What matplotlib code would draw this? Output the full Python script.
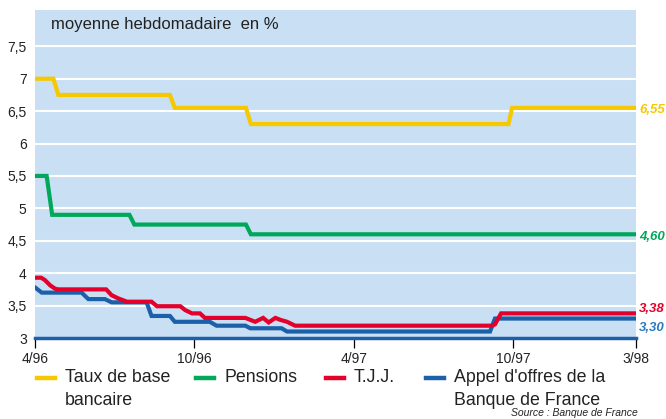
import matplotlib
matplotlib.use("Agg")
import matplotlib.pyplot as plt
from matplotlib.lines import Line2D

plt.rcParams['font.family'] = ['Liberation Sans', 'DejaVu Sans']

# ---- data (x in weeks since start of April 1996) ----
tick_pos = [0, 26, 52, 78, 98]
tick_labels = ['4/96', '10/96', '4/97', '10/97', '3/98']
y_ticks = [3, 3.5, 4, 4.5, 5, 5.5, 6, 6.5, 7, 7.5]
y_tick_labels = ['3', '3,5', '4', '4,5', '5', '5,5', '6', '6,5', '7', '7,5']

tbb_x = [0, 3, 3.8, 22, 22.8, 34.4, 35.2, 77.2, 77.8, 98]
tbb_y = [7.0, 7.0, 6.75, 6.75, 6.55, 6.55, 6.30, 6.30, 6.55, 6.55]

pens_x = [0, 1.9, 2.8, 15.4, 16.2, 34.4, 35.2, 98]
pens_y = [5.5, 5.5, 4.9, 4.9, 4.75, 4.75, 4.6, 4.6]

tjj_x = [0, 1.0, 1.6, 2.5, 3.3, 3.8, 11.6, 12.5, 13.6, 15.0, 19.0, 19.9, 23.7, 24.5,
         25.6, 26.9, 27.7, 34.3, 35.1, 35.9, 37.2, 38.1, 39.2, 40.0, 41.1, 42.4,
         74.5, 75.0, 76.0, 98]
tjj_y = [3.93, 3.93, 3.895, 3.81, 3.76, 3.75, 3.75, 3.66, 3.61, 3.56, 3.56, 3.49, 3.49, 3.43,
         3.38, 3.38, 3.31, 3.31, 3.28, 3.25, 3.31, 3.24, 3.31, 3.28, 3.25, 3.19,
         3.19, 3.21, 3.38, 3.38]

ao_x = [0, 1.1, 7.6, 8.7, 11.4, 12.5, 18.2, 19.0, 22.0, 22.8, 28.5, 29.6, 34.3, 35.1,
        40.2, 41.1, 74.2, 75.0, 98]
ao_y = [3.78, 3.70, 3.70, 3.60, 3.60, 3.55, 3.55, 3.34, 3.34, 3.25, 3.25, 3.19, 3.19, 3.15,
        3.15, 3.10, 3.10, 3.30, 3.30]

end_labels = ['6,55', '4,60', '3,38', '3,30']
series_names = ['Taux de base\nbancaire', 'Pensions', 'T.J.J.', "Appel d'offres de la\nBanque de France"]

YELLOW = '#F6C800'
GREEN = '#00A859'
RED = '#E3002A'
BLUE = '#1B60A9'
BLUE_LBL = '#2B79BE'
BG = '#C9DFF3'
TXT = '#222222'

fig = plt.figure(figsize=(6.66, 4.19), dpi=100)
ax = fig.add_axes([35/666, 1-338/419, 601/666, 328/419])
ax.set_facecolor(BG)

ax.set_xlim(0, 98)
ax.set_ylim(3, 8.06)

for v in y_ticks[1:]:
    ax.axhline(v, color='white', lw=1.5, zorder=1)

lw = 3.0
ax.plot(tbb_x, tbb_y, color=YELLOW, lw=lw, solid_joinstyle='miter', zorder=3)
ax.plot(pens_x, pens_y, color=GREEN, lw=lw, solid_joinstyle='miter', zorder=3)
ax.plot(ao_x, ao_y, color=BLUE, lw=lw, solid_joinstyle='miter', zorder=3)
ax.plot(tjj_x, tjj_y, color=RED, lw=lw, solid_joinstyle='miter', zorder=4)

for s in ['top', 'right', 'left']:
    ax.spines[s].set_visible(False)
ax.spines['bottom'].set_color(BLUE)
ax.spines['bottom'].set_linewidth(2.5)
ax.spines['bottom'].set_zorder(5)

ax.set_yticks(y_ticks)
ax.set_yticklabels(y_tick_labels)
ax.tick_params(axis='y', length=0, pad=6, labelsize=10, colors=TXT)
ax.set_xticks(tick_pos)
ax.set_xticklabels(tick_labels)
ax.tick_params(axis='x', length=7, width=0.9, color='black', pad=3, labelsize=10,
               labelcolor=TXT, direction='out')

ax.text(0.026, 0.955, 'moyenne hebdomadaire  en %', transform=ax.transAxes,
        fontsize=12, color=TXT, va='center', ha='left')

# end labels
lbl_kw = dict(fontsize=9.5, fontweight='bold', fontstyle='italic', ha='left', va='center',
              clip_on=False)
ax.text(98.5, tbb_y[-1] - 0.03, end_labels[0], color=YELLOW, **lbl_kw)
ax.text(98.5, pens_y[-1] - 0.04, end_labels[1], color=GREEN, **lbl_kw)
ax.text(98.5, tjj_y[-1] + 0.07, end_labels[2], color=RED, **lbl_kw)
ax.text(98.5, ao_y[-1] - 0.14, end_labels[3], color=BLUE_LBL, **lbl_kw)

# legend (manual, handles aligned to first line)
colors = [YELLOW, GREEN, RED, BLUE]
hx = [37, 196, 326, 426]
ty = 1 - 378/419
for x0, c, name in zip(hx, colors, series_names):
    fig.add_artist(Line2D([x0/666, (x0+18)/666], [ty, ty], color=c, lw=3.2,
                          transform=fig.transFigure))
    fig.text((x0+28)/666, ty + 0.022, name, fontsize=12.8, color=TXT,
             va='top', ha='left', linespacing=1.45)

fig.text(638/666, 1-413/419, 'Source : Banque de France', fontsize=7.5, fontstyle='italic',
         color=TXT, ha='right', va='center')

fig.savefig('out.png', dpi=100, facecolor='white')
